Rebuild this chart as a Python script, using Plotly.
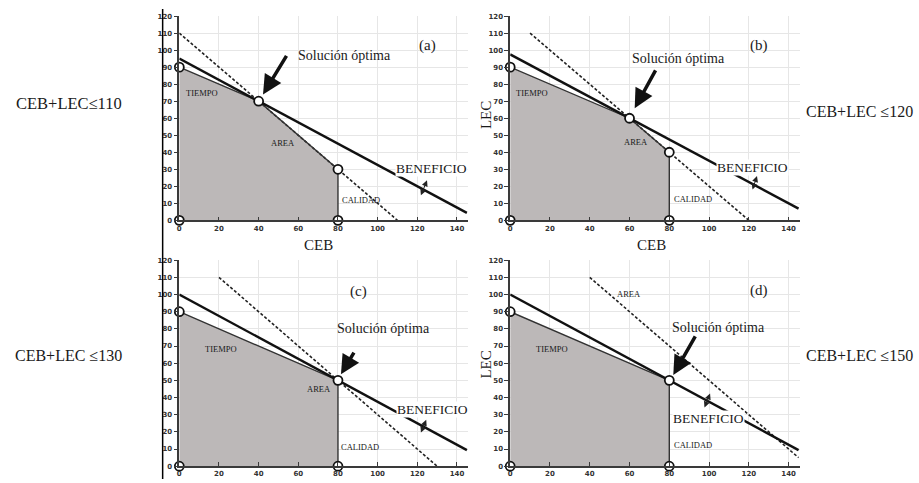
import plotly.graph_objects as go

# ---------------- data ----------------
panel_names = ["(a)", "(b)", "(c)", "(d)"]
constraint_texts = ["CEB+LEC≤110", "CEB+LEC ≤120", "CEB+LEC ≤130", "CEB+LEC ≤150"]
area_limits = [110, 120, 130, 150]

x_ticks = [0, 20, 40, 60, 80, 100, 120, 140]
y_ticks = [0, 10, 20, 30, 40, 50, 60, 70, 80, 90, 100, 110, 120]

# feasible region vertices (CEB, LEC)
region_x = [[0, 0, 40, 80, 80], [0, 0, 60, 80, 80], [0, 0, 80, 80], [0, 0, 80, 80]]
region_y = [[0, 90, 70, 30, 0], [0, 90, 60, 40, 0], [0, 90, 50, 0], [0, 90, 50, 0]]

# optimal solution per panel
opt_x = [40, 60, 80, 80]
opt_y = [70, 60, 50, 50]

# AREA constraint (dashed) visible segment endpoints
area_x = [[0, 110], [10, 120], [20, 130], [40, 145]]
area_y = [[110, 0], [110, 0], [110, 0], [110, 5]]

# BENEFICIO (objective) line endpoints
ben_x = [[0, 145], [0, 145], [0, 145], [0, 145]]
ben_y = [[95, 4.4], [97.5, 6.9], [100, 9.4], [100, 9.4]]

# "Solución óptima" arrow: tail -> head (data coords)
arrow_tail = [(54.5, 97.5), (73.5, 89), (88.5, 67), (93.5, 76.5)]
arrow_head = [(42.2, 74), (62.6, 65.8), (81.5, 53.5), (82, 53.2)]

# small direction arrows on the BENEFICIO line
dir_from = [(121.5, 13.8), (121.6, 17.3), (121.5, 18.7), (97.4, 33.3)]
dir_to = [(124.9, 23.5), (124.1, 26.0), (124.5, 27.0), (100.5, 42.3)]

# label positions (data coords)
lab_sol = [(83.4, 97.1), (84.4, 94.8), (103, 80), (104.9, 80.8)]
lab_panel = [(124.9, 102.7), (124.9, 102.6), (90.4, 101.9), (124.9, 102.4)]
lab_tiempo = [(11.2, 75), (11.2, 75.1), (20.9, 68), (20.8, 68.3)]
lab_area = [(52.5, 45.7), (63.1, 45.8), (70.2, 44.7), (59.7, 100.5)]
lab_calidad = [(91.5, 11.9), (92, 12.5), (91.3, 11), (92, 12.1)]
lab_ben = [(127.3, 30.3), (121.6, 30.8), (127.8, 33.3), (99.8, 27.7)]

# ---------------- layout geometry ----------------
W, H = 919, 483
x_domains = [[0.19336, 0.50805], [0.55419, 0.86975], [0.19336, 0.50805], [0.55419, 0.86975]]
y_domains = [[0.54451, 0.97453], [0.54451, 0.97453], [0.02692, 0.46066], [0.02692, 0.46066]]
XR = [0, 145.5]
YR = [0, 120]

SERIF = "Liberation Serif"
FILL = "#bcb8b8"
EDGE = "#333333"

fig = go.Figure()
layout = dict(
    width=W, height=H, margin=dict(l=0, r=0, t=0, b=0),
    paper_bgcolor="white", plot_bgcolor="white", showlegend=False,
)
annotations = []

for i in range(4):
    xa = "x" if i == 0 else f"x{i+1}"
    ya = "y" if i == 0 else f"y{i+1}"
    xkey = "xaxis" if i == 0 else f"xaxis{i+1}"
    ykey = "yaxis" if i == 0 else f"yaxis{i+1}"

    layout[xkey] = dict(
        domain=x_domains[i], range=XR, anchor=ya, tickvals=x_ticks,
        showgrid=True, gridcolor="#e6e6e6", gridwidth=1, zeroline=False,
        showline=True, linecolor="#3a3a3a", linewidth=1.5,
        ticks="inside", ticklen=4, tickcolor="#3a3a3a",
        tickfont=dict(family="DejaVu Sans", size=7, color="#333", weight="bold"),
    )
    layout[ykey] = dict(
        domain=y_domains[i], range=YR, anchor=xa, tickvals=y_ticks,
        showgrid=True, gridcolor="#e6e6e6", gridwidth=1, zeroline=False,
        showline=True, linecolor="#3a3a3a", linewidth=1.5,
        ticks="outside", ticklen=4, tickcolor="#3a3a3a",
        tickfont=dict(family="DejaVu Sans", size=7, color="#333", weight="bold"),
    )

    # region fill
    fig.add_trace(go.Scatter(
        x=region_x[i] + [region_x[i][0]], y=region_y[i] + [region_y[i][0]],
        fill="toself", fillcolor=FILL, mode="lines", line=dict(width=0),
        xaxis=xa, yaxis=ya, hoverinfo="skip"))
    # dashed AREA line
    fig.add_trace(go.Scatter(
        x=area_x[i], y=area_y[i], mode="lines",
        line=dict(color="#222", width=1.6, dash="3px,2px"),
        xaxis=xa, yaxis=ya, hoverinfo="skip"))
    # region boundary (upper edges + vertical CALIDAD)
    fig.add_trace(go.Scatter(
        x=region_x[i][1:], y=region_y[i][1:], mode="lines",
        line=dict(color=EDGE, width=1.4),
        xaxis=xa, yaxis=ya, hoverinfo="skip"))
    # BENEFICIO line
    fig.add_trace(go.Scatter(
        x=ben_x[i], y=ben_y[i], mode="lines",
        line=dict(color="#111", width=2.4),
        xaxis=xa, yaxis=ya, hoverinfo="skip"))
    # vertex markers
    fig.add_trace(go.Scatter(
        x=region_x[i], y=region_y[i], mode="markers", cliponaxis=False,
        marker=dict(size=9, color="white", line=dict(color="#111", width=1.8)),
        xaxis=xa, yaxis=ya, hoverinfo="skip"))

    def txt(pos, text, size, bg=None):
        d = dict(x=pos[0], y=pos[1], xref=xa, yref=ya, text=text, showarrow=False,
                 font=dict(family=SERIF, size=size, color="#1a1a1a"))
        if bg:
            d["bgcolor"] = bg
            d["borderpad"] = 0
        annotations.append(d)

    txt(lab_sol[i], "Solución óptima", 14)
    txt(lab_panel[i], panel_names[i], 15)
    txt(lab_tiempo[i], "TIEMPO", 8.5)
    txt(lab_area[i], "AREA", 8.5)
    txt(lab_calidad[i], "CALIDAD", 8.5)
    txt(lab_ben[i], "BENEFICIO", 13.5, bg="white")

    # big arrow to the optimum
    annotations.append(dict(
        x=arrow_head[i][0], y=arrow_head[i][1], xref=xa, yref=ya,
        ax=arrow_tail[i][0], ay=arrow_tail[i][1], axref=xa, ayref=ya,
        text="", showarrow=True, arrowhead=2, arrowsize=1.1, arrowwidth=3.5,
        arrowcolor="#111"))
    # small direction arrow
    annotations.append(dict(
        x=dir_to[i][0], y=dir_to[i][1], xref=xa, yref=ya,
        ax=dir_from[i][0], ay=dir_from[i][1], axref=xa, ayref=ya,
        text="", showarrow=True, arrowhead=2, startarrowhead=2, arrowside="end+start",
        arrowsize=1.2, startarrowsize=1.2, arrowwidth=1, arrowcolor="#222"))

# axis titles and side texts (paper coordinates from pixel positions)
def paper_text(px, py, text, size, angle=0):
    annotations.append(dict(
        x=px / W, y=1 - py / H, xref="paper", yref="paper", text=text,
        showarrow=False, textangle=angle, xanchor="center", yanchor="middle",
        font=dict(family=SERIF, size=size, color="#1a1a1a")))

paper_text(317, 245, "CEB", 15)
paper_text(650.5, 245, "CEB", 15)
paper_text(485, 113, "LEC", 15, angle=-90)
paper_text(485, 366.7, "LEC", 15, angle=-90)
paper_text(66.7, 100.7, constraint_texts[0], 16.5)
paper_text(859, 109.3, constraint_texts[1], 16)
paper_text(66.7, 357, constraint_texts[2], 16)
paper_text(859, 357, constraint_texts[3], 16)

layout["annotations"] = annotations
layout["shapes"] = [dict(type="line", xref="paper", yref="paper",
                         x0=161 / W, x1=161 / W, y0=0, y1=1 - 5 / H,
                         line=dict(color="black", width=1.5))]
fig.update_layout(**layout)
fig.write_html(
    "out.html",
    config={"displayModeBar": False},
    post_script="document.body.style.margin='0';document.body.style.padding='0';"
                "document.body.style.overflow='hidden';",
)
